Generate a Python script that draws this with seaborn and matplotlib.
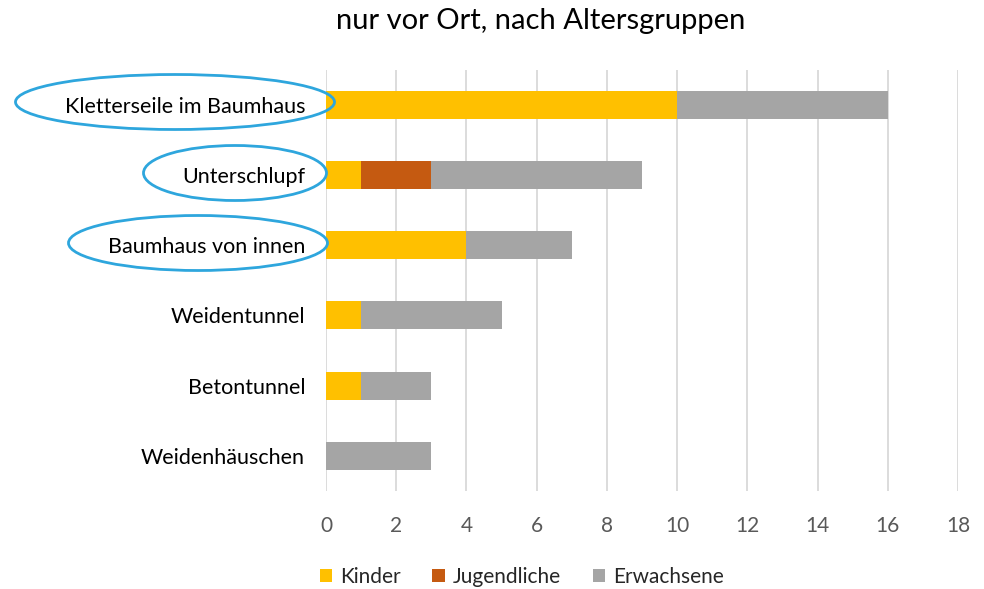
import matplotlib
matplotlib.use("Agg")
import matplotlib.pyplot as plt
from matplotlib.patches import Ellipse, Patch
import seaborn as sns
import pandas as pd
import numpy as np

categories = ["Kletterseile im Baumhaus", "Unterschlupf", "Baumhaus von innen",
              "Weidentunnel", "Betontunnel", "Weidenhäuschen"]
kinder = [10, 1, 4, 1, 1, 0]
jugendliche = [0, 2, 0, 0, 0, 0]
erwachsene = [6, 6, 3, 4, 2, 3]
series_names = ["Kinder", "Jugendliche", "Erwachsene"]
colors = ["#FFC000", "#C55A11", "#A5A5A5"]
x_ticks = [0, 2, 4, 6, 8, 10, 12, 14, 16, 18]
title = "nur vor Ort, nach Altersgruppen"
highlighted = ["Kletterseile im Baumhaus", "Unterschlupf", "Baumhaus von innen"]

sns.set_theme(style="white")
plt.rcParams["font.family"] = ["Lato", "DejaVu Sans"]

W, H = 984, 589
fig = plt.figure(figsize=(W / 100, H / 100), dpi=100)
ax = fig.add_axes([326 / W, 1 - 491 / H, (958 - 326) / W, (491 - 69.5) / H])

df = pd.DataFrame({"cat": categories, "Kinder": kinder,
                   "Jugendliche": jugendliche, "Erwachsene": erwachsene})
df["c1"] = df["Kinder"]
df["c2"] = df["Kinder"] + df["Jugendliche"]
df["c3"] = df["c2"] + df["Erwachsene"]

for col, colr in zip(["c3", "c2", "c1"], [colors[2], colors[1], colors[0]]):
    sns.barplot(data=df, x=col, y="cat", order=categories, color=colr,
                width=0.4, saturation=1, ax=ax, orient="h", zorder=3,
                edgecolor="none", linewidth=0)

ax.set_xlim(0, 18)
ax.set_xticks(x_ticks)
ax.set_ylim(len(categories) - 0.5, -0.5)
ax.set_xlabel("")
ax.set_ylabel("")
ax.xaxis.grid(True, color="#D9D9D9", linewidth=1.3, zorder=0)
ax.set_axisbelow(True)
for s in ax.spines.values():
    s.set_visible(False)
ax.tick_params(axis="x", length=0, pad=18, labelsize=15, labelcolor="#595959")
ax.tick_params(axis="y", length=0, pad=15, labelsize=15.5, labelcolor="#000000")

fig.text(541 / W, 1 - 21 / H, title, ha="center", va="center", fontsize=21, color="#000000")

# ellipses around highlighted labels (pixel geometry in figure coordinates)
ell_geom = {"Kletterseile im Baumhaus": (175, 102, 319, 55),
            "Unterschlupf": (235, 173, 183, 55),
            "Baumhaus von innen": (198, 243, 259, 55)}
for name in highlighted:
    cx, cy, ew, eh = ell_geom[name]
    e = Ellipse((cx / W, 1 - cy / H), ew / W, eh / H, transform=fig.transFigure,
                fill=False, edgecolor="#2EA6DD", linewidth=2, zorder=10)
    fig.patches.append(e)

handles = [Patch(facecolor=c, edgecolor="none", label=n) for n, c in zip(series_names, colors)]
fig.legend(handles=handles, loc="center", bbox_to_anchor=(522 / W, 1 - 577 / H), ncol=3,
           frameon=False, fontsize=15, handlelength=0.6, handleheight=0.6,
           handletextpad=0.4, columnspacing=1.5)

fig.savefig("out.png", dpi=100)
